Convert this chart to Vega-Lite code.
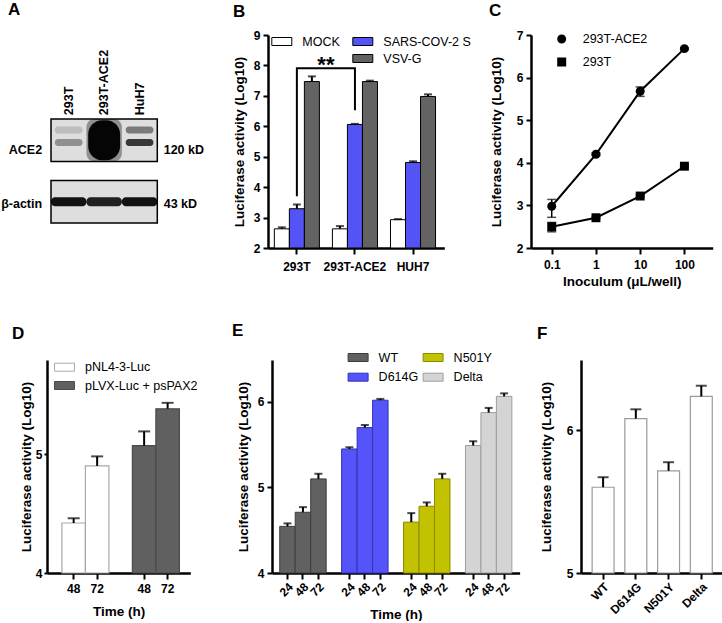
{
  "$schema": "https://vega.github.io/schema/vega-lite/v6.json",
  "background": "white",
  "padding": {"left": 0, "top": 0, "right": 0, "bottom": 0},
  "spacing": 34,
  "resolve": {"scale": {"color": "independent", "stroke": "independent", "shape": "independent", "opacity": "independent", "x": "independent", "y": "independent"}, "legend": {"color": "independent", "stroke": "independent", "shape": "independent", "opacity": "independent"}},
  "config": {
    "font": "Liberation Sans",
    "view": {"stroke": null},
    "axis": {"domainColor": "black", "domainWidth": 2.5, "tickColor": "black", "tickWidth": 2, "tickSize": 5, "labelFont": "Liberation Sans", "labelFontWeight": "bold", "labelFontSize": 12, "labelColor": "black", "labelPadding": 3, "labelOverlap": false, "titleFont": "Liberation Sans", "titleFontWeight": "bold", "titleFontSize": 13.5, "titleColor": "black", "grid": false},
    "legend": {"labelFont": "Liberation Sans", "labelFontSize": 12.5, "labelColor": "black", "padding": 0, "symbolType": "M-1,-0.4H1V0.4H-1Z", "symbolSize": 400, "labelOffset": 10, "symbolStrokeWidth": 1, "symbolOpacity": 1},
    "title": {"font": "Liberation Sans", "fontSize": 17, "fontWeight": "bold", "anchor": "start", "frame": "group", "color": "black"}
  },
  "vconcat": [
    {
      "spacing": 0,
      "bounds": "flush",
      "resolve": {"scale": {"color": "independent", "stroke": "independent", "shape": "independent", "opacity": "independent", "x": "independent", "y": "independent"}, "legend": {"color": "independent", "stroke": "independent", "shape": "independent", "opacity": "independent"}},
      "hconcat": [
        {"width": 50.7, "height": 20, "data": {"values": [{}]}, "mark": {"type": "rect", "opacity": 0}, "encoding": {}},
        {
          "width": 106.3, "height": 188,
          "title": {"text": "A", "dx": -43, "offset": 16.5},
          "layer": [
            {
              "data": {"values": [{"protein": "ACE2"}, {"protein": "β-actin"}]},
              "mark": {"type": "rect", "fill": "#dedede", "stroke": "black", "strokeWidth": 1.5},
              "encoding": {
                "y": {"field": "protein", "type": "nominal", "scale": {"domain": ["ACE2", "β-actin"], "paddingInner": 0.309, "paddingOuter": 0.683, "align": 1}, "axis": null}
              }
            },
            {
              "data": {"values": [
                {"lane": "293T", "protein": "ACE2", "position": "upper", "signal": 0.15},
                {"lane": "293T", "protein": "ACE2", "position": "lower", "signal": 0.35},
                {"lane": "HuH7", "protein": "ACE2", "position": "upper", "signal": 0.45},
                {"lane": "HuH7", "protein": "ACE2", "position": "lower", "signal": 0.75}
              ]},
              "mark": {"type": "rect", "color": "black", "cornerRadius": 3, "width": {"band": 0.78}},
              "encoding": {
                "x": {"field": "lane", "type": "nominal", "scale": {"domain": ["293T", "293T-ACE2", "HuH7"], "paddingInner": 0, "paddingOuter": 0}, "axis": null},
                "y": {"field": "protein", "type": "nominal", "scale": {"domain": ["ACE2", "β-actin"], "paddingInner": 0.309, "paddingOuter": 0.683, "align": 1}, "axis": null},
                "yOffset": {"field": "position", "type": "nominal", "scale": {"domain": ["upper", "lower"], "paddingInner": 0.44, "paddingOuter": 0.92, "align": 0.326}},
                "opacity": {"field": "signal", "type": "quantitative", "scale": {"domain": [0, 1], "range": [0, 1]}, "legend": null}
              }
            },
            {
              "data": {"values": [{"lane": "293T-ACE2", "protein": "ACE2", "signal": 1}]},
              "mark": {"type": "rect", "color": "black", "cornerRadius": 8, "opacity": 0.35, "width": {"band": 1.0}, "height": {"band": 1.0}},
              "encoding": {
                "x": {"field": "lane", "type": "nominal", "axis": null},
                "y": {"field": "protein", "type": "nominal", "axis": null}
              }
            },
            {
              "data": {"values": [{"lane": "293T-ACE2", "protein": "ACE2", "signal": 1}]},
              "mark": {"type": "rect", "color": "#050505", "cornerRadius": 14, "width": {"band": 0.9}, "height": {"band": 0.94}},
              "encoding": {
                "x": {"field": "lane", "type": "nominal", "axis": null},
                "y": {"field": "protein", "type": "nominal", "axis": null}
              }
            },
            {
              "data": {"values": [
                {"lane": "293T", "protein": "β-actin", "signal": 0.92},
                {"lane": "293T-ACE2", "protein": "β-actin", "signal": 0.86},
                {"lane": "HuH7", "protein": "β-actin", "signal": 0.92}
              ]},
              "mark": {"type": "rect", "color": "black", "cornerRadius": 4, "width": {"band": 1.0}, "height": {"band": 0.21}},
              "encoding": {
                "x": {"field": "lane", "type": "nominal", "axis": null},
                "y": {"field": "protein", "type": "nominal", "axis": null},
                "opacity": {"field": "signal", "type": "quantitative", "scale": {"domain": [0, 1], "range": [0, 1]}, "legend": null}
              }
            },
            {
              "data": {"values": [{"lane": "293T"}, {"lane": "293T-ACE2"}, {"lane": "HuH7"}]},
              "mark": {"type": "text", "angle": 270, "align": "left", "baseline": "middle", "fontSize": 12.5, "fontWeight": "bold", "color": "black"},
              "encoding": {
                "x": {"field": "lane", "type": "nominal", "axis": null},
                "y": {"datum": "ACE2", "type": "nominal", "bandPosition": -0.09, "axis": null},
                "text": {"field": "lane"}
              }
            },
            {
              "data": {"values": [{"protein": "ACE2", "name": "ACE2", "weight": "120 kD"}]},
              "layer": [
                {
                  "mark": {"type": "text", "align": "right", "baseline": "middle", "fontSize": 12.5, "fontWeight": "bold", "color": "black"},
                  "encoding": {
                    "x": {"datum": "293T", "type": "nominal", "bandPosition": -0.25, "axis": null},
                    "y": {"field": "protein", "type": "nominal", "bandPosition": 0.72, "axis": null},
                    "text": {"field": "name"}
                  }
                },
                {
                  "mark": {"type": "text", "align": "left", "baseline": "middle", "fontSize": 12.5, "fontWeight": "bold", "color": "black"},
                  "encoding": {
                    "x": {"datum": "HuH7", "type": "nominal", "bandPosition": 1.18, "axis": null},
                    "y": {"field": "protein", "type": "nominal", "bandPosition": 0.72, "axis": null},
                    "text": {"field": "weight"}
                  }
                }
              ]
            },
            {
              "data": {"values": [{"protein": "β-actin", "name": "β-actin", "weight": "43 kD"}]},
              "layer": [
                {
                  "mark": {"type": "text", "align": "right", "baseline": "middle", "fontSize": 12.5, "fontWeight": "bold", "color": "black"},
                  "encoding": {
                    "x": {"datum": "293T", "type": "nominal", "bandPosition": -0.25, "axis": null},
                    "y": {"field": "protein", "type": "nominal", "bandPosition": 0.55, "axis": null},
                    "text": {"field": "name"}
                  }
                },
                {
                  "mark": {"type": "text", "align": "left", "baseline": "middle", "fontSize": 12.5, "fontWeight": "bold", "color": "black"},
                  "encoding": {
                    "x": {"datum": "HuH7", "type": "nominal", "bandPosition": 1.18, "axis": null},
                    "y": {"field": "protein", "type": "nominal", "bandPosition": 0.55, "axis": null},
                    "text": {"field": "weight"}
                  }
                }
              ]
            }
          ]
        },
        {"width": 110, "height": 20, "data": {"values": [{}]}, "mark": {"type": "rect", "opacity": 0}, "encoding": {}},
        {
          "width": 176.3, "height": 213,
          "title": {"text": "B", "dx": -35, "offset": 8.5},
          "layer": [
            {
              "data": {"values": [
                {"cell": "293T", "group": "MOCK", "value": 2.63, "upper": 2.68},
                {"cell": "293T", "group": "SARS-COV-2 S", "value": 3.29, "upper": 3.43},
                {"cell": "293T", "group": "VSV-G", "value": 7.47, "upper": 7.64},
                {"cell": "293T-ACE2", "group": "MOCK", "value": 2.63, "upper": 2.72},
                {"cell": "293T-ACE2", "group": "SARS-COV-2 S", "value": 6.06, "upper": 6.08},
                {"cell": "293T-ACE2", "group": "VSV-G", "value": 7.47, "upper": 7.5},
                {"cell": "HUH7", "group": "MOCK", "value": 2.93, "upper": 2.95},
                {"cell": "HUH7", "group": "SARS-COV-2 S", "value": 4.81, "upper": 4.85},
                {"cell": "HUH7", "group": "VSV-G", "value": 6.98, "upper": 7.05}
              ]},
              "layer": [
                {
                  "mark": {"type": "bar", "stroke": "black", "strokeWidth": 1},
                  "encoding": {
                    "x": {"field": "cell", "type": "nominal", "title": null, "scale": {"domain": ["293T", "293T-ACE2", "HUH7"], "paddingInner": 0.224, "paddingOuter": 0.13, "align": 0.42}, "axis": {"labelAngle": 0, "tickSize": 6, "labelPadding": 7}},
                    "xOffset": {"field": "group", "type": "nominal", "scale": {"domain": ["MOCK", "SARS-COV-2 S", "VSV-G"], "paddingInner": 0, "paddingOuter": 0}},
                    "y": {"field": "value", "type": "quantitative", "stack": null, "title": "Luciferase activity (Log10)", "scale": {"domain": [2, 9], "nice": false, "zero": false}, "axis": {"values": [2, 3, 4, 5, 6, 7, 8, 9], "format": "~g", "titlePadding": 6.5}},
                    "y2": {"datum": 2},
                    "color": {"field": "group", "type": "nominal", "scale": {"domain": ["MOCK", " ", "SARS-COV-2 S", "VSV-G"], "range": ["white", "white", "#5454f6", "#636363"]}, "legend": {"title": null, "orient": "none", "legendX": 3.3, "legendY": -4, "columns": 2, "columnPadding": 10, "rowPadding": 0, "symbolStrokeColor": "black", "encode": {"symbols": {"update": {"opacity": {"signal": "datum.value === ' ' ? 0 : 1"}}}}}}
                  }
                },
                {
                  "mark": {"type": "rule", "color": "black", "strokeWidth": 2},
                  "encoding": {
                    "x": {"field": "cell", "type": "nominal", "title": null},
                    "xOffset": {"field": "group", "type": "nominal"},
                    "y": {"field": "value", "type": "quantitative", "title": "Luciferase activity (Log10)", "axis": {"values": [2, 3, 4, 5, 6, 7, 8, 9], "format": "~g", "titlePadding": 6.5}},
                    "y2": {"field": "upper"}
                  }
                },
                {
                  "mark": {"type": "tick", "color": "black", "thickness": 2, "size": 8},
                  "encoding": {
                    "x": {"field": "cell", "type": "nominal", "title": null},
                    "xOffset": {"field": "group", "type": "nominal"},
                    "y": {"field": "upper", "type": "quantitative", "title": "Luciferase activity (Log10)", "axis": {"values": [2, 3, 4, 5, 6, 7, 8, 9], "format": "~g", "titlePadding": 6.5}}
                  }
                }
              ]
            },
            {
              "data": {"values": [
                {"cell": "293T", "level": 3.7, "step": 1},
                {"cell": "293T", "level": 7.91, "step": 2},
                {"cell": "293T-ACE2", "level": 7.91, "step": 3},
                {"cell": "293T-ACE2", "level": 6.53, "step": 4}
              ]},
              "mark": {"type": "line", "color": "black", "strokeWidth": 2},
              "encoding": {
                "x": {"field": "cell", "type": "nominal", "title": null},
                "y": {"field": "level", "type": "quantitative", "title": "Luciferase activity (Log10)", "axis": {"values": [2, 3, 4, 5, 6, 7, 8, 9], "format": "~g", "titlePadding": 6.5}},
                "order": {"field": "step", "type": "quantitative"}
              }
            },
            {
              "data": {"values": [{"cell": "293T", "level": 7.8, "label": "**"}]},
              "mark": {"type": "text", "fontSize": 22, "fontWeight": "bold", "baseline": "alphabetic", "align": "center", "color": "black"},
              "encoding": {
                "x": {"field": "cell", "type": "nominal", "title": null, "bandPosition": 1.144},
                "y": {"field": "level", "type": "quantitative", "title": "Luciferase activity (Log10)", "axis": {"values": [2, 3, 4, 5, 6, 7, 8, 9], "format": "~g", "titlePadding": 6.5}},
                "text": {"field": "label"}
              }
            }
          ]
        },
        {"width": 85.3, "height": 20, "data": {"values": [{}]}, "mark": {"type": "rect", "opacity": 0}, "encoding": {}},
        {
          "width": 181.7, "height": 213,
          "title": {"text": "C", "dx": -42, "offset": 8.5},
          "resolve": {"scale": {"shape": "independent", "size": "independent"}, "legend": {"shape": "independent", "size": "independent"}},
          "data": {"values": [
            {"series": "293T-ACE2", "dose": 0.1, "mean": 2.98, "lo": 2.72, "hi": 3.14},
            {"series": "293T-ACE2", "dose": 1, "mean": 4.2, "lo": 4.17, "hi": 4.23},
            {"series": "293T-ACE2", "dose": 10, "mean": 5.68, "lo": 5.56, "hi": 5.78},
            {"series": "293T-ACE2", "dose": 100, "mean": 6.68, "lo": 6.66, "hi": 6.7},
            {"series": "293T", "dose": 0.1, "mean": 2.5, "lo": 2.38, "hi": 2.6},
            {"series": "293T", "dose": 1, "mean": 2.71, "lo": 2.69, "hi": 2.73},
            {"series": "293T", "dose": 10, "mean": 3.22, "lo": 3.2, "hi": 3.25},
            {"series": "293T", "dose": 100, "mean": 3.92, "lo": 3.9, "hi": 3.94}
          ]},
          "layer": [
            {
              "mark": {"type": "rule", "color": "black", "strokeWidth": 1.5},
              "encoding": {
                "x": {"field": "dose", "type": "quantitative", "title": "Inoculum (μL/well)", "scale": {"type": "log", "domain": [0.034, 436], "nice": false}, "axis": {"values": [0.1, 1, 10, 100], "format": "~g", "tickSize": 6, "labelPadding": 5, "titlePadding": 4}},
                "y": {"field": "lo", "type": "quantitative", "title": "Luciferase activity (Log10)", "scale": {"domain": [2, 7], "nice": false, "zero": false}, "axis": {"values": [2, 3, 4, 5, 6, 7], "format": "~g", "titlePadding": 13}},
                "y2": {"field": "hi"}
              }
            },
            {
              "mark": {"type": "tick", "color": "black", "thickness": 1.5, "size": 9, "orient": "horizontal"},
              "encoding": {
                "x": {"field": "dose", "type": "quantitative", "title": "Inoculum (μL/well)"},
                "y": {"field": "lo", "type": "quantitative", "title": "Luciferase activity (Log10)"}
              }
            },
            {
              "mark": {"type": "tick", "color": "black", "thickness": 1.5, "size": 9, "orient": "horizontal"},
              "encoding": {
                "x": {"field": "dose", "type": "quantitative", "title": "Inoculum (μL/well)"},
                "y": {"field": "hi", "type": "quantitative", "title": "Luciferase activity (Log10)"}
              }
            },
            {
              "mark": {"type": "line", "color": "black", "strokeWidth": 2},
              "encoding": {
                "x": {"field": "dose", "type": "quantitative", "title": "Inoculum (μL/well)"},
                "y": {"field": "mean", "type": "quantitative", "title": "Luciferase activity (Log10)"},
                "detail": {"field": "series", "type": "nominal"}
              }
            },
            {
              "mark": {"type": "point", "filled": true, "color": "black", "opacity": 0, "size": 400},
              "encoding": {
                "x": {"field": "dose", "type": "quantitative", "title": "Inoculum (μL/well)"},
                "y": {"field": "mean", "type": "quantitative", "title": "Luciferase activity (Log10)"},
                "shape": {"field": "series", "type": "nominal", "scale": {"domain": ["293T-ACE2", "293T"], "range": ["M-1.5,0H1.5M-0.45,0A0.45,0.45,0,1,1,0.45,0A0.45,0.45,0,1,1,-0.45,0Z", "M-1.5,0H1.5M-0.45,-0.45H0.45V0.45H-0.45Z"]}, "legend": {"title": null, "orient": "none", "legendX": 19.7, "legendY": -7, "rowPadding": 3, "labelOffset": 10, "symbolSize": 400, "symbolFillColor": "black", "symbolStrokeColor": "black", "symbolStrokeWidth": 2, "encode": {"symbols": {"update": {"opacity": {"value": 1}, "fill": {"value": "black"}, "stroke": {"value": "black"}, "strokeWidth": {"value": 2}}}}}}
              }
            },
            {
              "mark": {"type": "point", "filled": true, "color": "black", "opacity": 1, "size": 80},
              "encoding": {
                "x": {"field": "dose", "type": "quantitative", "title": "Inoculum (μL/well)"},
                "y": {"field": "mean", "type": "quantitative", "title": "Luciferase activity (Log10)"},
                "shape": {"field": "series", "type": "nominal", "scale": {"domain": ["293T-ACE2", "293T"], "range": ["circle", "square"]}, "legend": null}
              }
            }
          ]
        }
      ]
    },
    {
      "spacing": 0,
      "bounds": "flush",
      "resolve": {"scale": {"color": "independent", "stroke": "independent", "shape": "independent", "opacity": "independent", "x": "independent", "y": "independent"}, "legend": {"color": "independent", "stroke": "independent", "shape": "independent", "opacity": "independent"}},
      "hconcat": [
        {"width": 46.7, "height": 20, "data": {"values": [{}]}, "mark": {"type": "rect", "opacity": 0}, "encoding": {}},
        {
          "width": 143.3, "height": 213,
          "title": {"text": "D", "dx": -35, "offset": 14},
          "data": {"values": [
            {"plasmid": "pNL4-3-Luc", "time": "48", "key": "pNL4-3-Luc|48", "value": 4.42, "upper": 4.46},
            {"plasmid": "pNL4-3-Luc", "time": "72", "key": "pNL4-3-Luc|72", "value": 4.9, "upper": 4.98},
            {"plasmid": "pLVX-Luc + psPAX2", "time": "48", "key": "pLVX-Luc + psPAX2|48", "value": 5.07, "upper": 5.19},
            {"plasmid": "pLVX-Luc + psPAX2", "time": "72", "key": "pLVX-Luc + psPAX2|72", "value": 5.38, "upper": 5.43}
          ]},
          "layer": [
            {
              "mark": {"type": "bar", "strokeWidth": 1.2},
              "encoding": {
                "x": {"field": "key", "type": "nominal", "title": "Time (h)", "scale": {"domain": ["pNL4-3-Luc|48", "pNL4-3-Luc|72", "gap", "pLVX-Luc + psPAX2|48", "pLVX-Luc + psPAX2|72"], "paddingInner": 0, "paddingOuter": 0.55, "align": 0.577}, "axis": {"labelAngle": 0, "labelExpr": "indexof(datum.value, '|') >= 0 ? split(datum.value, '|')[1] : ''", "tickOpacity": {"condition": {"test": "datum.value === 'gap'", "value": 0}, "value": 1}, "tickSize": 6, "labelPadding": 4, "titlePadding": 10}},
                "y": {"field": "value", "type": "quantitative", "stack": null, "title": "Luciferase activity (Log10)", "scale": {"domain": [4, 5.79], "nice": false, "zero": false}, "axis": {"values": [4, 5], "format": "~g", "tickSize": 3, "labelPadding": 2, "titlePadding": 2}},
                "y2": {"datum": 4},
                "color": {"field": "plasmid", "type": "nominal", "scale": {"domain": ["pNL4-3-Luc", "pLVX-Luc + psPAX2"], "range": ["white", "#606060"]}, "legend": {"title": null, "orient": "none", "legendX": 7, "legendY": -3.3, "rowPadding": 1.3, "symbolStrokeColor": "#8a8a8a"}},
                "stroke": {"field": "plasmid", "type": "nominal", "scale": {"domain": ["pNL4-3-Luc", "pLVX-Luc + psPAX2"], "range": ["#a8a8a8", "#4a4a4a"]}, "legend": null}
              }
            },
            {
              "mark": {"type": "rule", "color": "black", "strokeWidth": 2},
              "encoding": {
                "x": {"field": "key", "type": "nominal", "title": "Time (h)"},
                "y": {"field": "value", "type": "quantitative", "title": "Luciferase activity (Log10)"},
                "y2": {"field": "upper"}
              }
            },
            {
              "mark": {"type": "tick", "color": "black", "thickness": 2, "size": 12},
              "encoding": {
                "x": {"field": "key", "type": "nominal", "title": "Time (h)"},
                "y": {"field": "upper", "type": "quantitative", "title": "Luciferase activity (Log10)"}
              }
            }
          ]
        },
        {"width": 80.7, "height": 20, "data": {"values": [{}]}, "mark": {"type": "rect", "opacity": 0}, "encoding": {}},
        {
          "width": 247.6, "height": 213,
          "title": {"text": "E", "dx": -40, "offset": 7},
          "data": {"values": [
            {"variant": "WT", "time": "24", "key": "WT|24", "value": 4.545, "upper": 4.58},
            {"variant": "WT", "time": "48", "key": "WT|48", "value": 4.71, "upper": 4.77},
            {"variant": "WT", "time": "72", "key": "WT|72", "value": 5.1, "upper": 5.16},
            {"variant": "D614G", "time": "24", "key": "D614G|24", "value": 5.45, "upper": 5.47},
            {"variant": "D614G", "time": "48", "key": "D614G|48", "value": 5.7, "upper": 5.73},
            {"variant": "D614G", "time": "72", "key": "D614G|72", "value": 6.02, "upper": 6.035},
            {"variant": "N501Y", "time": "24", "key": "N501Y|24", "value": 4.595, "upper": 4.7},
            {"variant": "N501Y", "time": "48", "key": "N501Y|48", "value": 4.78, "upper": 4.825},
            {"variant": "N501Y", "time": "72", "key": "N501Y|72", "value": 5.1, "upper": 5.16},
            {"variant": "Delta", "time": "24", "key": "Delta|24", "value": 5.49, "upper": 5.54},
            {"variant": "Delta", "time": "48", "key": "Delta|48", "value": 5.875, "upper": 5.93},
            {"variant": "Delta", "time": "72", "key": "Delta|72", "value": 6.065, "upper": 6.1}
          ]},
          "layer": [
            {
              "mark": {"type": "bar", "strokeWidth": 1},
              "encoding": {
                "x": {"field": "key", "type": "nominal", "title": "Time (h)", "scale": {"domain": ["WT|24", "WT|48", "WT|72", "gap1", "D614G|24", "D614G|48", "D614G|72", "gap2", "N501Y|24", "N501Y|48", "N501Y|72", "gap3", "Delta|24", "Delta|48", "Delta|72"], "paddingInner": 0, "paddingOuter": 0.5, "align": 0.5}, "axis": {"labelAngle": -45, "labelExpr": "indexof(datum.value, '|') >= 0 ? split(datum.value, '|')[1] : ''", "tickOpacity": {"condition": {"test": "indexof(datum.value, 'gap') === 0", "value": 0}, "value": 1}, "tickSize": 6, "labelPadding": 2, "titlePadding": 9}},
                "y": {"field": "value", "type": "quantitative", "stack": null, "title": "Luciferase activity (Log10)", "scale": {"domain": [4, 6.49], "nice": false, "zero": false}, "axis": {"values": [4, 5, 6], "format": "~g", "titlePadding": 7}},
                "y2": {"datum": 4},
                "color": {"field": "variant", "type": "nominal", "scale": {"domain": ["WT", "D614G", "N501Y", "Delta"], "range": ["#616161", "#5454fa", "#c2c200", "#d4d4d4"]}, "legend": {"title": null, "orient": "none", "legendX": 75.6, "legendY": -13, "columns": 2, "columnPadding": 2, "rowPadding": 2.7}},
                "stroke": {"field": "variant", "type": "nominal", "scale": {"domain": ["WT", "D614G", "N501Y", "Delta"], "range": ["#3d3d3d", "#3333b0", "#8a8a00", "#9e9e9e"]}, "legend": {"title": null, "orient": "none", "legendX": 75.6, "legendY": -13, "columns": 2, "columnPadding": 2, "rowPadding": 2.7}}
              }
            },
            {
              "mark": {"type": "rule", "color": "black", "strokeWidth": 2},
              "encoding": {
                "x": {"field": "key", "type": "nominal", "title": "Time (h)"},
                "y": {"field": "value", "type": "quantitative", "title": "Luciferase activity (Log10)"},
                "y2": {"field": "upper"}
              }
            },
            {
              "mark": {"type": "tick", "color": "black", "thickness": 2, "size": 8},
              "encoding": {
                "x": {"field": "key", "type": "nominal", "title": "Time (h)"},
                "y": {"field": "upper", "type": "quantitative", "title": "Luciferase activity (Log10)"}
              }
            }
          ]
        },
        {"width": 61, "height": 20, "data": {"values": [{}]}, "mark": {"type": "rect", "opacity": 0}, "encoding": {}},
        {
          "width": 142.4, "height": 213,
          "title": {"text": "F", "dx": -44, "offset": 17},
          "data": {"values": [
            {"variant": "WT", "value": 5.6, "upper": 5.67},
            {"variant": "D614G", "value": 6.08, "upper": 6.145},
            {"variant": "N501Y", "value": 5.715, "upper": 5.775},
            {"variant": "Delta", "value": 6.235, "upper": 6.31}
          ]},
          "layer": [
            {
              "mark": {"type": "bar", "fill": "white", "stroke": "#9a9a9a", "strokeWidth": 1.2},
              "encoding": {
                "x": {"field": "variant", "type": "nominal", "title": null, "scale": {"domain": ["WT", "D614G", "N501Y", "Delta"], "paddingInner": 0.33, "paddingOuter": 0.34}, "axis": {"labelAngle": -45, "tickSize": 6, "labelPadding": 2}},
                "y": {"field": "value", "type": "quantitative", "stack": null, "title": "Luciferase activity (Log10)", "scale": {"domain": [5, 6.49], "nice": false, "zero": false}, "axis": {"values": [5, 6], "format": "~g", "titlePadding": 13}},
                "y2": {"datum": 5}
              }
            },
            {
              "mark": {"type": "rule", "color": "black", "strokeWidth": 2},
              "encoding": {
                "x": {"field": "variant", "type": "nominal", "title": null},
                "y": {"field": "value", "type": "quantitative", "title": "Luciferase activity (Log10)"},
                "y2": {"field": "upper"}
              }
            },
            {
              "mark": {"type": "tick", "color": "black", "thickness": 2, "size": 11},
              "encoding": {
                "x": {"field": "variant", "type": "nominal", "title": null},
                "y": {"field": "upper", "type": "quantitative", "title": "Luciferase activity (Log10)"}
              }
            }
          ]
        }
      ]
    }
  ]
}
